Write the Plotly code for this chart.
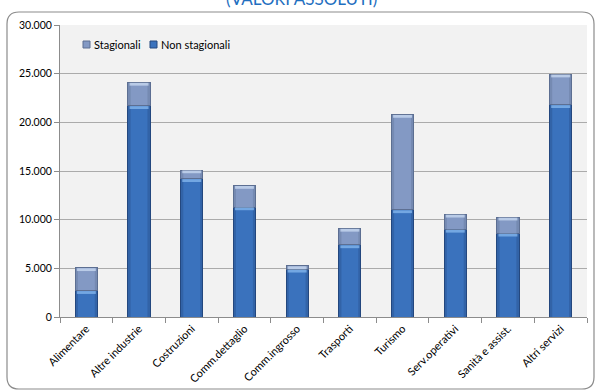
import plotly.graph_objects as go

# Occupati per settore: componente non stagionale e stagionale (valori assoluti)
settori = ["Alimentare", "Altre industrie", "Costruzioni", "Comm.dettaglio",
           "Comm.ingrosso", "Trasporti", "Turismo", "Serv.operativi",
           "Sanità e assist.", "Altri servizi"]
non_stagionali = [2700, 21700, 14200, 11300, 4900, 7400, 11000, 9000, 8600, 21800]
stagionali = [2350, 2400, 900, 2200, 350, 1700, 9800, 1550, 1650, 3150]
y_ticks = [0, 5000, 10000, 15000, 20000, 25000, 30000]

W, H = 597, 392
L, R, T, B = 60, 10, 25, 75
pw, ph = W - L - R, H - T - B

COL_NS, EDGE_NS, HI_NS = "#3A72BD", "#24487F", "#8CBDF2"
COL_S, EDGE_S, HI_S = "#8399C4", "#5D6F92", "#D0E0F6"
HALF = 0.21  # half bar width in category units (bargap 0.58)

fig = go.Figure()
fig.add_trace(go.Bar(
    x=settori, y=non_stagionali, name="Non stagionali", showlegend=False,
    marker=dict(color=COL_NS, line=dict(color=EDGE_NS, width=1)),
))
fig.add_trace(go.Bar(
    x=settori, y=stagionali, name="Stagionali", showlegend=False,
    marker=dict(color=COL_S, line=dict(color=EDGE_S, width=1)),
))

# shading: darker sides and a light bevel at the top of every segment
shapes = []
base = [0] * len(settori)
for serie, hi, edge in ((non_stagionali, HI_NS, EDGE_NS), (stagionali, HI_S, EDGE_S)):
    for i, v in enumerate(serie):
        bottom, top = base[i], base[i] + v
        for xa, xb in ((i - HALF, i - HALF + 0.05), (i + HALF - 0.05, i + HALF)):
            shapes.append(dict(type="rect", xref="x", yref="y",
                               x0=xa, x1=xb, y0=bottom, y1=top,
                               fillcolor=edge, line=dict(width=0),
                               layer="above", opacity=0.35))
        shapes.append(dict(type="rect", xref="x", yref="y",
                           x0=i - HALF + 0.03, x1=i + HALF - 0.03,
                           y0=top - 330, y1=top - 40,
                           fillcolor=hi, line=dict(width=0), layer="above", opacity=0.7))
        base[i] = top


def px_to_paper(xp, yp):
    return (xp - L) / pw, (H - B - yp) / ph


# rounded frame around the chart
x0, y0 = px_to_paper(7, 12)
x1, y1 = px_to_paper(594, 389)
rx, ry = 12 / pw, 12 / ph
path = (f"M {x0+rx},{y0} L {x1-rx},{y0} Q {x1},{y0} {x1},{y0-ry} "
        f"L {x1},{y1+ry} Q {x1},{y1} {x1-rx},{y1} "
        f"L {x0+rx},{y1} Q {x0},{y1} {x0},{y1+ry} "
        f"L {x0},{y0-ry} Q {x0},{y0} {x0+rx},{y0} Z")
shapes.append(dict(type="path", xref="paper", yref="paper", path=path,
                   line=dict(color="#8C8C8C", width=1.2), layer="above"))

# legend: small squares with labels
annotations = []
legend_items = [("Stagionali", COL_S, EDGE_S, 83), ("Non stagionali", COL_NS, EDGE_NS, 150)]
for label, col, edge, xpx in legend_items:
    sx0, sy0 = px_to_paper(xpx, 41)
    sx1, sy1 = px_to_paper(xpx + 7, 48)
    shapes.append(dict(type="rect", xref="paper", yref="paper",
                       x0=sx0, x1=sx1, y0=sy1, y1=sy0, fillcolor=col,
                       line=dict(color=edge, width=1), layer="above"))
    tx, ty = px_to_paper(xpx + 9, 44.5)
    annotations.append(dict(text=label, xref="paper", yref="paper", x=tx, y=ty,
                            xanchor="left", yanchor="middle", showarrow=False,
                            font=dict(size=11, color="#000000")))

annotations.append(dict(text="(VALORI ASSOLUTI)", xref="paper", yref="paper",
                        x=(301 - L) / pw, y=(H - B - 11) / ph,
                        xanchor="center", yanchor="bottom", showarrow=False,
                        font=dict(size=17, color="#1F6FC0", family="Lato, sans-serif")))

fig.update_layout(
    width=W, height=H,
    margin=dict(l=L, r=R, t=T, b=B),
    barmode="stack", bargap=0.58,
    paper_bgcolor="white", plot_bgcolor="#F2F2F2",
    separators=",.",
    font=dict(family="Lato, Carlito, sans-serif", size=10, color="#000000"),
    showlegend=False,
    shapes=shapes,
    annotations=annotations,
    xaxis=dict(type="category", tickangle=-45, showline=True, linecolor="#8C8C8C",
               ticks="outside", tickson="boundaries", ticklen=5, tickcolor="#8C8C8C",
               showgrid=False, tickfont=dict(size=11), automargin=False),
    yaxis=dict(range=[0, 30000], tickvals=y_ticks, tickformat=",d",
               showline=True, linecolor="#8C8C8C", ticks="outside", ticklen=5,
               tickcolor="#8C8C8C", gridcolor="#ABABAB", gridwidth=1,
               zeroline=False, tickfont=dict(size=10.5), automargin=False),
)

fig.write_html("out.html")
